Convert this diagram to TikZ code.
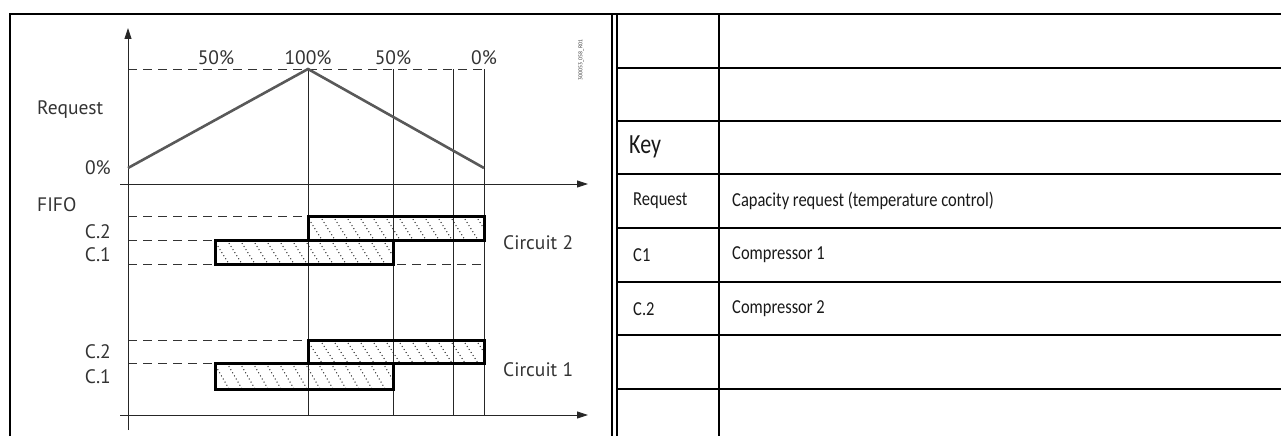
\documentclass[tikz,border=0pt]{standalone}
\usepackage{fontspec}
\setmainfont{PT Sans}
\newfontfamily\tabfont{Carlito}
\usetikzlibrary{arrows.meta}
\tikzset{
  x=1pt,y=-1pt,
  frame/.style={line width=2pt,black},
  axis/.style={line width=0.9pt,black!85,-{Triangle[length=11pt,width=7pt]}},
  vline/.style={line width=0.9pt,black!85},
  dashline/.style={line width=0.9pt,black!80,dash pattern=on 9pt off 6pt},
  reqline/.style={line width=2.6pt,black!65},
  bar/.style={line width=3pt,black},
  hatch/.style={line width=1pt,black!85,dash pattern=on 1pt off 2.6pt},
  lab/.style={font=\fontsize{19.5}{22}\selectfont,text=black!80,inner sep=0pt},
  tab/.style={font=\tabfont\fontsize{16.5}{18}\selectfont,yscale=1.2,inner sep=0pt,anchor=west,text=black!90},
}
\newcommand{\hatchbar}[4]{% x1,y1,x2,y2
  \begin{scope}
    \clip (#1,#2) rectangle (#3,#4);
    \foreach \k in {-40,-27,...,200}{
      \draw[hatch] ({#1+\k},#2) -- ({#1+\k+15},#4);
    }
  \end{scope}
  \draw[bar] (#1,#2) rectangle (#3,#4);
}
\begin{document}
\begin{tikzpicture}
\useasboundingbox (0,0) rectangle (1281,436);
% frames
\draw[frame] (10,436) -- (10,14) -- (1281,14);
\draw[line width=1.4pt] (612,14) -- (612,436);
\draw[frame] (617,14) -- (617,436);
\draw[frame] (719,14) -- (719,436);
\foreach \y in {68,121,174,228,282,335,389}{
  \draw[frame] (617,\y) -- (1281,\y);
}
% table texts
\node[tab,font=\tabfont\fontsize{22}{24}\selectfont,yscale=1.05] (key) at (629,147) {Key};
\node[tab] (k1) at (633,201) {Request};
\node[tab] (v1) at (732,201) {Capacity request (temperature control)};
\node[tab] (k2) at (633,255) {C1};
\node[tab] (v2) at (732,255) {Compressor 1};
\node[tab] (k3) at (633,309) {C.2};
\node[tab] (v3) at (732,309) {Compressor 2};

% diagram coordinates
\coordinate (yb) at (128,430);
\coordinate (yt) at (128,28);
\coordinate (x1l) at (120,184);
\coordinate (x1r) at (588,184);
\coordinate (x2l) at (120,415);
\coordinate (x2r) at (588,415);
% dashed top
\draw[dashline] (128,69) -- (484,69);
% vertical grid lines
\foreach \x in {308,393,453,484}{
  \draw[vline] (\x,69) -- (\x,415);
}
% dashed level lines
\draw[dashline] (128,216) -- (308,216);
\draw[dashline] (128,240) -- (215,240);
\draw[dashline] (128,264) -- (215,264);
\draw[dashline] (397,264) -- (484,264);
\draw[dashline] (128,340) -- (308,340);
\draw[dashline] (128,363) -- (215,363);
% axes
\draw[axis] (yb) -- (yt);
\draw[axis] (x1l) -- (x1r);
\draw[axis] (x2l) -- (x2r);
% request line
\draw[reqline,line join=miter] (128,168) -- (308,69) -- (484,168);
% bars
\hatchbar{308}{216}{484}{240}
\hatchbar{215}{240}{393}{264}
\hatchbar{308}{340}{484}{363}
\hatchbar{215}{363}{393}{389}
% labels
\node[lab,anchor=base] (p50a) at (216,64) {50\%};
\node[lab,anchor=base] (p100) at (308,64) {100\%};
\node[lab,anchor=base] (p50b) at (393,64) {50\%};
\node[lab,anchor=base] (p0) at (484,64) {0\%};
\node[lab,anchor=west] (req) at (37,110) {Request};
\node[lab,anchor=east] (zero) at (111,168) {0\%};
\node[lab,anchor=west] (fifo) at (37,205) {FIFO};
\node[lab,anchor=east] (c2a) at (111,232) {C.2};
\node[lab,anchor=east] (c1a) at (111,255) {C.1};
\node[lab,anchor=east] (c2b) at (111,352) {C.2};
\node[lab,anchor=east] (c1b) at (111,377) {C.1};
\node[lab,anchor=west] (cir2) at (503,243) {Circuit 2};
\node[lab,anchor=west] (cir1) at (503,370) {Circuit 1};
\node[font=\fontsize{5.5}{6}\selectfont,rotate=90,inner sep=0pt,text=black!80] (code) at (581,60) {300053\_058\_R01};
\end{tikzpicture}
\end{document}
